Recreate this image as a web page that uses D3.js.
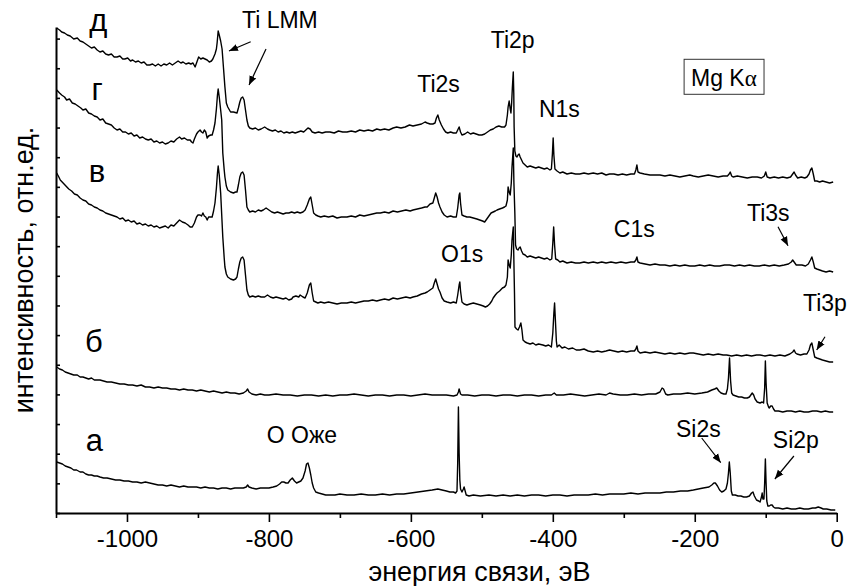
<!DOCTYPE html>
<html>
<head>
<meta charset="utf-8">
<script src="https://cdn.jsdelivr.net/npm/d3@7"></script>
<style>
  body { margin: 0; background: #fff; }
  svg { display: block; font-family: "Liberation Sans", Arial, sans-serif; }
</style>
</head>
<body>
<svg id="chart" width="847" height="586"></svg>
<script>
// x ticks (binding energy, eV)
const energyTicks = [-1000, -800, -600, -400, -200, 0];
const energyMinorTicks = [-1100, -900, -700, -500, -300, -100];

// spectra, [energy eV, intensity a.u.]
const spectrumD = [[-1099,485],[-1095,483],[-1092,481],[-1088,480],[-1084,478],[-1080,477],[-1075,474],[-1070,475],[-1066,472],[-1062,471],[-1058,469],[-1054,467],[-1050,465],[-1046,466],[-1042,463],[-1038,461],[-1034,462],[-1030,459],[-1026,458],[-1022,459],[-1018,456],[-1014,456],[-1010,457],[-1006,454],[-1003,454],[-999,455],[-995,452],[-992,453],[-988,451],[-984,452],[-980,450],[-976,451],[-972,448],[-968,448],[-964,449],[-960,447],[-956,449],[-952,447],[-948,449],[-944,448],[-940,450],[-936,448],[-932,450],[-928,452],[-924,450],[-921,451],[-917,449],[-913,450],[-910,449],[-907,450],[-904,446],[-901,452],[-899,456],[-896,454],[-893,455],[-890,454],[-887,453],[-884,451],[-881,452],[-879,454],[-876,459],[-874,464],[-873,470],[-871.5,482],[-870,478],[-868,472],[-866,464],[-864,445],[-862,426],[-860,410],[-858,406],[-854,401],[-850,401],[-845,400],[-843,405],[-841,411],[-839,415],[-837,416],[-835,413],[-833,403],[-831,393],[-829,387],[-827,385],[-823,384],[-819,385],[-815,383],[-811,384],[-806,386],[-802,384],[-799,383],[-795,382],[-791,383],[-787,381],[-783,382],[-779,380],[-775,381],[-771,380],[-767,381],[-763,380],[-759,381],[-755,382],[-751,381],[-748,383],[-745,385],[-742,384],[-739,381],[-735,380],[-730,381],[-725,380],[-720,381],[-714,381],[-708,380],[-702,382],[-696,381],[-690,381],[-684,382],[-678,381],[-672,383],[-666,382],[-660,383],[-654,382],[-648,384],[-643,383],[-637,384],[-631,383],[-625,385],[-620,386],[-614,385],[-608,386],[-602,388],[-597,387],[-591,388],[-585,389],[-580,391],[-577,390],[-573,389],[-569,389],[-566,390],[-564,395],[-562,398],[-560,393],[-557,388],[-554,384],[-551,381],[-548,380],[-544,381],[-540,380],[-536,380],[-534,383],[-532,386],[-530,381],[-528,378],[-524,379],[-520,381],[-516,379],[-512,380],[-508,379],[-504,378],[-500,378],[-496,379],[-492,381],[-488,383],[-484,384],[-480,386],[-476,387],[-472,386],[-468,386],[-466,388],[-464,398],[-463,406],[-461.5,412],[-460,404],[-459,400],[-458,410],[-457,425],[-455.7,441],[-455,420],[-454.5,386],[-453.5,362],[-452,357],[-450.5,356],[-449,358],[-447.5,359],[-446,356],[-444,353],[-442,350],[-439,348],[-436,346],[-432,347],[-428,346],[-424,345],[-420,346],[-416,345],[-412,344],[-408,345],[-404,343],[-402,344],[-400.5,360],[-399.5,375],[-398.5,358],[-397,344],[-394,342],[-390,340],[-386,341],[-380,339],[-374,340],[-368,339],[-362,339],[-356,340],[-350,339],[-343,340],[-337,339],[-331,340],[-325,338],[-320,339],[-314,339],[-308,338],[-302,339],[-296,338],[-290,339],[-285,339],[-283,343],[-281.5,348],[-280,341],[-277,340],[-271,339],[-263,338],[-256,338],[-249,338],[-242,337],[-235,338],[-228,337],[-221,336],[-214,337],[-207,338],[-202,337],[-195,336],[-188,337],[-181,338],[-174,337],[-167,336],[-160,337],[-154,337],[-151.5,339],[-150,341],[-148,337],[-146,336],[-140,337],[-133,336],[-126,335],[-119,336],[-112,336],[-106,335],[-102,337],[-100,341],[-98,336],[-94,335],[-88,336],[-82,335],[-76,336],[-70,335],[-65,336],[-62,339],[-60,341],[-58,338],[-55,335],[-50,336],[-45,335],[-42,336],[-39,339],[-37,343],[-35,345],[-33,339],[-31,332],[-28,332],[-24,331],[-20,332],[-15,331],[-10,330],[-5,331]];

const spectrumG = [[-1099,423],[-1095,420],[-1092,418],[-1088,416],[-1085,413],[-1081,414],[-1077,410],[-1073,409],[-1069,407],[-1065,405],[-1062,403],[-1058,404],[-1054,400],[-1050,399],[-1046,397],[-1042,396],[-1038,393],[-1034,394],[-1030,390],[-1026,389],[-1022,388],[-1018,385],[-1014,383],[-1010,384],[-1006,381],[-1002,381],[-998,379],[-994,380],[-990,377],[-986,378],[-982,375],[-978,376],[-974,374],[-970,373],[-966,374],[-962,371],[-958,372],[-954,370],[-950,371],[-946,369],[-942,370],[-938,372],[-934,371],[-930,374],[-926,376],[-923,374],[-919,375],[-915,373],[-911,373],[-909,371],[-907,370],[-905,374],[-902,379],[-900,381],[-897,383],[-895,381],[-893,380],[-891,383],[-889,381],[-887,375],[-885,377],[-882,378],[-880,378],[-878,383],[-876,390],[-874,404],[-872.5,418],[-871.5,424],[-870,416],[-868,403],[-866.5,393],[-865,360],[-863,343],[-862,336],[-860,327],[-858,323],[-854,321],[-850,320],[-847,321],[-845,321],[-843,328],[-841,336],[-839,340],[-837,341],[-835,338],[-833,323],[-831,306],[-829,303],[-827,301],[-823,302],[-819,301],[-815,303],[-811,302],[-808,303],[-804,305],[-800,303],[-796,301],[-792,300],[-788,301],[-784,300],[-780,299],[-776,300],[-772,300],[-768,301],[-764,300],[-760,301],[-756,300],[-752,301],[-749,303],[-746,308],[-743,314],[-741,316],[-739,308],[-737,300],[-734,298],[-731,297],[-727,296],[-722,297],[-716,296],[-710,297],[-704,295],[-698,296],[-690,296],[-684,297],[-678,296],[-672,298],[-666,297],[-660,298],[-654,299],[-648,300],[-643,300],[-637,301],[-631,300],[-625,302],[-619,301],[-613,302],[-607,303],[-601,302],[-597,303],[-591,304],[-585,305],[-580,306],[-577,306],[-573,309],[-569,310],[-567,315],[-565,320],[-563,316],[-561,310],[-559,306],[-556,301],[-553,298],[-549,296],[-544,297],[-540,296],[-536,296],[-534,305],[-532,318],[-531,320],[-530,310],[-528,298],[-525,297],[-521,296],[-517,296],[-512,295],[-507,294],[-503,293],[-499,292],[-496,291],[-493,294],[-490,297],[-487,300],[-484,301],[-481,302],[-478.6,303],[-475,304],[-471,305],[-468,306],[-466,307],[-464,313],[-463,326],[-461.5,321],[-460,318],[-458.5,330],[-457.5,346],[-455.7,365],[-454.8,330],[-453.5,300],[-452.5,268],[-451,264],[-449,263],[-447.5,265],[-446,266],[-444,262],[-442,259],[-439,258],[-436,256],[-432,257],[-428,256],[-424,255],[-420,256],[-416,255],[-412,254],[-408,255],[-404,253],[-401.5,254],[-400,270],[-398.8,286],[-397.5,268],[-396,254],[-393,253],[-390,251],[-386,252],[-380,250],[-374,251],[-368,250],[-362,250],[-356,251],[-350,250],[-343,251],[-337,250],[-331,251],[-325,250],[-318,251],[-311,250],[-304,251],[-297,250],[-290,251],[-285,251],[-283,253],[-281.5,256],[-280,251],[-277,250],[-270,249],[-263,248],[-256,249],[-249,248],[-242,248],[-235,247],[-228,248],[-221,247],[-214,248],[-207,247],[-200,247],[-193,248],[-186,247],[-179,248],[-172,247],[-165,247],[-158,248],[-151,248],[-144,247],[-137,248],[-130,247],[-123,248],[-116,247],[-109,247],[-102,248],[-95,247],[-88,248],[-81,247],[-74,248],[-68,249],[-64,251],[-62,253],[-60,251],[-57,248],[-54,248],[-49,248],[-44,247],[-40,249],[-37,253],[-35,256],[-33,251],[-31,245],[-28,244],[-24,243],[-20,242],[-15,241],[-10,242],[-5,241]];

const spectrumV = [[-1099,340],[-1096,336],[-1094,333],[-1090,330],[-1086,327],[-1082,324],[-1078,322],[-1074,319],[-1070,318],[-1066,315],[-1062,313],[-1058,312],[-1054,309],[-1050,308],[-1046,306],[-1042,305],[-1038,303],[-1034,302],[-1030,300],[-1026,299],[-1022,298],[-1018,297],[-1014,296],[-1010,294],[-1006,295],[-1002,292],[-998,293],[-994,291],[-990,292],[-986,289],[-982,290],[-978,288],[-974,289],[-970,287],[-966,288],[-962,286],[-958,287],[-954,285],[-950,286],[-946,287],[-942,285],[-938,288],[-934,287],[-930,290],[-926,293],[-922,291],[-918,290],[-914,288],[-911,286],[-908,286],[-905,290],[-902,296],[-900,298],[-897,298],[-895,297],[-893,300],[-891,297],[-889,296],[-887,293],[-885,296],[-883,296],[-880,296],[-878,302],[-876,310],[-874,325],[-872.5,340],[-871.5,347],[-870,338],[-868,320],[-866.5,298],[-865,276],[-863,255],[-862,246],[-860,239],[-858,236],[-854,234],[-850,233],[-847,234],[-845,236],[-843,244],[-841,251],[-839,255],[-837,256],[-835,253],[-833,238],[-831,223],[-829,218],[-827,216],[-823,217],[-819,216],[-815,217],[-811,216],[-806,216],[-802,218],[-798,216],[-794,215],[-790,216],[-785,215],[-780,214],[-776,215],[-772,213],[-768,214],[-766,216],[-762,217],[-758,216],[-756,218],[-752,216],[-749,215],[-746,220],[-743,228],[-741,230],[-739,220],[-737,212],[-734,211],[-731,210],[-727,211],[-722,210],[-716,211],[-710,210],[-704,209],[-698,210],[-690,210],[-684,211],[-678,210],[-672,211],[-666,212],[-660,212],[-654,213],[-648,212],[-643,213],[-637,214],[-631,213],[-625,215],[-619,214],[-613,215],[-607,216],[-601,215],[-597,216],[-591,217],[-585,219],[-580,220],[-577,221],[-573,223],[-569,225],[-567,230],[-565,234],[-563,229],[-561,224],[-559,221],[-556,215],[-553,212],[-549,211],[-544,210],[-540,211],[-536,210],[-534,218],[-532,228],[-531,231],[-530,222],[-528,211],[-525,209],[-521,208],[-517,209],[-512,210],[-507,209],[-502,208],[-498,207],[-495,206],[-492,207],[-489,209],[-486,212],[-484,215],[-481,218],[-478.6,220],[-475,222],[-471,225],[-468,226],[-466,228],[-464,236],[-463,253],[-461.5,248],[-460,245],[-458.5,258],[-457.5,273],[-455.7,286],[-454.8,250],[-454,220],[-453.3,186],[-451,184],[-449,183],[-447,186],[-445,190],[-443.5,183],[-442,173],[-439,171],[-436,170],[-432,169],[-428,170],[-424,168],[-420,169],[-414,168],[-410,167],[-406,168],[-402,166],[-400,180],[-398.5,200],[-397.5,210],[-396.5,195],[-395,172],[-394,166],[-391,168],[-387,165],[-383,166],[-378,164],[-372,165],[-367,163],[-362,163],[-356,164],[-350,162],[-343,161],[-337,162],[-331,161],[-325,162],[-320,163],[-314,162],[-308,161],[-302,162],[-296,161],[-290,162],[-285,162],[-283,164],[-281.5,167],[-280,162],[-277,160],[-270,161],[-263,160],[-256,161],[-249,160],[-242,159],[-235,160],[-228,159],[-221,160],[-214,159],[-207,160],[-202,160],[-195,159],[-188,158],[-181,159],[-174,158],[-167,159],[-160,158],[-155,158],[-148,157],[-141,158],[-134,157],[-127,158],[-120,157],[-113,158],[-108,158],[-101,157],[-94,158],[-87,157],[-80,158],[-73,157],[-66,159],[-62,161],[-60,163],[-58,160],[-56,159],[-51,158],[-46,159],[-42,159],[-39,163],[-37,168],[-35,170],[-33,163],[-31,156],[-28,155],[-24,154],[-20,153],[-15,152],[-10,151],[-5,151]];

const spectrumB = [[-1099,146],[-1095,144],[-1091,143],[-1087,141],[-1083,140],[-1079,139],[-1075,138],[-1070,138],[-1066,136],[-1062,136],[-1058,135],[-1054,134],[-1050,135],[-1046,133],[-1042,133],[-1038,133],[-1033,132],[-1028,131],[-1022,131],[-1016,130],[-1010,129],[-1004,129],[-998,128],[-992,128],[-986,127],[-980,128],[-974,126],[-968,126],[-962,125],[-956,126],[-950,125],[-944,125],[-938,124],[-932,124],[-926,123],[-920,124],[-914,123],[-908,123],[-902,122],[-896,123],[-890,122],[-884,121],[-878,122],[-872,121],[-866,120],[-860,121],[-854,120],[-848,120],[-842,119],[-836,120],[-832,122],[-830,124],[-828,121],[-824,119],[-818,118],[-812,119],[-806,118],[-800,118],[-790,119],[-780,118],[-770,118],[-760,117],[-750,118],[-740,118],[-730,117],[-720,118],[-710,117],[-700,118],[-690,118],[-680,119],[-670,118],[-660,117],[-650,118],[-640,118],[-630,117],[-620,118],[-610,118],[-600,117],[-590,118],[-580,119],[-570,118],[-560,118],[-550,118],[-540,117],[-535,118],[-533,121],[-532,124],[-530,119],[-528,118],[-520,118],[-510,117],[-500,118],[-490,118],[-480,117],[-470,118],[-460,118],[-450,117],[-440,118],[-430,118],[-420,117],[-410,118],[-402,118],[-398,120],[-395,118],[-385,118],[-375,119],[-365,118],[-355,117],[-345,118],[-335,119],[-325,118],[-320,120],[-315,119],[-305,118],[-295,118],[-285,119],[-275,118],[-265,119],[-255,119],[-249,121],[-246,125],[-244,124],[-241,119],[-238,118],[-230,119],[-220,119],[-210,120],[-200,119],[-190,120],[-182,121],[-176,123],[-172,124],[-169,125],[-166,122],[-163,120],[-159,119],[-156,119],[-154,124],[-152.5,135],[-151,155],[-149.5,132],[-148,120],[-146,118],[-142,117],[-138,116],[-134,116],[-130,115],[-126,115],[-123,116],[-121,118],[-119,120],[-117,118],[-115,114],[-112,111],[-108,110],[-105,111],[-103,110],[-101.5,125],[-100.5,152],[-99.5,130],[-98,110],[-96,106],[-95,105],[-93,107],[-91,107],[-89,104],[-87,102],[-82,102],[-76,101],[-70,102],[-64,102],[-58,101],[-52,102],[-46,101],[-40,101],[-34,102],[-28,102],[-22,101],[-16,102],[-10,101],[-5,101]];

const spectrumA = [[-1099,51],[-1095,50],[-1091,49],[-1087,47],[-1083,46],[-1079,45],[-1075,43],[-1071,43],[-1066,41],[-1062,41],[-1058,39],[-1054,38],[-1050,38],[-1046,37],[-1042,37],[-1038,36],[-1033,35],[-1028,35],[-1022,34],[-1016,33],[-1010,33],[-1004,32],[-998,32],[-992,31],[-986,31],[-980,30],[-974,31],[-968,30],[-962,29],[-956,28],[-950,28],[-944,27],[-938,28],[-932,27],[-926,26],[-920,27],[-914,26],[-908,26],[-902,26],[-896,25],[-890,26],[-884,25],[-878,25],[-872,24],[-866,25],[-860,25],[-854,24],[-848,25],[-842,25],[-836,25],[-832,26],[-830,28],[-828,26],[-824,25],[-818,24],[-812,25],[-806,25],[-800,25],[-794,26],[-789,27],[-785,29],[-782,31],[-779,31],[-776,30],[-773,30],[-770,33],[-767,35],[-764,32],[-761,30],[-758,31],[-755,32],[-752,35],[-749,42],[-747,49],[-745,50],[-743,45],[-741,38],[-739,30],[-737,25],[-734,21],[-730,20],[-725,19],[-720,18],[-714,18],[-707,18],[-700,19],[-690,18],[-680,18],[-670,19],[-660,18],[-650,18],[-640,19],[-630,18],[-620,19],[-610,19],[-600,20],[-590,21],[-580,22],[-570,23],[-562,24],[-556,23],[-550,22],[-545,21],[-540,21],[-537,20],[-535,22],[-534,50],[-533,106],[-532,60],[-531,33],[-530,24],[-528,21],[-526,24],[-525,26],[-523.5,22],[-522,18],[-518,17],[-512,18],[-502,17],[-490,18],[-480,17],[-470,18],[-460,17],[-450,18],[-440,17],[-430,18],[-420,18],[-410,17],[-400,18],[-390,18],[-380,17],[-370,18],[-361,18],[-350,18],[-340,19],[-330,18],[-320,19],[-310,19],[-300,19],[-290,20],[-280,19],[-270,20],[-260,20],[-249,20],[-240,21],[-230,21],[-220,22],[-210,22],[-202,23],[-195,24],[-188,25],[-180,26],[-176,28],[-173,30],[-171,30],[-168,27],[-165,23],[-162,21],[-159,22],[-156,24],[-154,30],[-152.5,40],[-151.3,51],[-150,40],[-148.5,22],[-147,18],[-143,18],[-139,17],[-135,17],[-131,16],[-127,16],[-123,17],[-120,20],[-118,21],[-116,17],[-113,13],[-110,12],[-108,11],[-106,16],[-105,20],[-104,14],[-102.5,14],[-101.5,30],[-100.5,54],[-99.5,30],[-98.5,12],[-97,7],[-95,7],[-93,8],[-91,8],[-89,6],[-87,5],[-82,5],[-76,4],[-70,5],[-64,4],[-58,4],[-52,5],[-46,4],[-40,4],[-34,5],[-30,5],[-26,6],[-22,5],[-19,4],[-14,4],[-8,3],[-2,3]];

const spectra = [spectrumD, spectrumG, spectrumV, spectrumB, spectrumA];
const spectrumNames = ['д', 'г', 'в', 'б', 'а'];
// where each sample letter sits, [energy, intensity]
const spectrumNameAt = [[-1053, 482], [-1050, 413], [-1054, 331], [-1059, 161], [-1058, 62]];

const peakNames = ['Ti LMM', 'Ti2p', 'Ti2s', 'N1s', 'O1s', 'C1s', 'Ti3s', 'Ti3p', 'O Оже', 'Si2s', 'Si2p'];
const peakNameAt = [[-838, 485], [-487.5, 465], [-591, 421], [-419.5, 396], [-557.5, 251], [-314, 276],
                    [-126.4, 292], [-47.5, 202], [-803, 70], [-226.4, 76], [-90, 65]];
// arrows: from [E, I] to [E, I]
const arrowsFrom = [[-825.7, 471.3], [-804.1, 464], [-82.7, 286.3], [-16.5, 176.3], [-190.2, 75], [-60.3, 57]];
const arrowsTo   = [[-856.3, 462], [-828, 428], [-68.6, 267.3], [-28.2, 163], [-163.4, 50.3], [-87.1, 34]];

const width = 847, height = 586;
const margin = { top: 27, right: 10.3, bottom: 73, left: 56 };

const svg = d3.select('#chart');

const x = d3.scaleLinear().domain([-1100, 0]).range([margin.left, width - margin.right]);
const y = d3.scaleLinear().domain([0, 486]).range([height - margin.bottom, margin.top]);

// arrow head
svg.append('defs').append('marker')
  .attr('id', 'head')
  .attr('viewBox', '0 0 10 10')
  .attr('refX', 10).attr('refY', 5)
  .attr('markerWidth', 9).attr('markerHeight', 9)
  .attr('markerUnits', 'userSpaceOnUse')
  .attr('orient', 'auto')
  .append('path').attr('d', 'M0,1 L10,5 L0,9 Z').attr('fill', '#000');

// spectra
const line = d3.line().x(d => x(d[0])).y(d => y(d[1]));
svg.append('g')
  .selectAll('path')
  .data(spectra)
  .join('path')
  .attr('d', line)
  .attr('fill', 'none')
  .attr('stroke', '#000')
  .attr('stroke-width', 1.4)
  .attr('stroke-linejoin', 'round');

// bottom axis, major and minor ticks
const xAxis = svg.append('g')
  .attr('transform', `translate(0,${height - margin.bottom})`)
  .call(d3.axisBottom(x).tickValues(energyTicks).tickSize(9).tickSizeOuter(0).tickPadding(8)
    .tickFormat(d => String(d)));
svg.append('g')
  .attr('transform', `translate(0,${height - margin.bottom})`)
  .call(d3.axisBottom(x).tickValues(energyMinorTicks).tickSize(5).tickSizeOuter(0).tickFormat(''))
  .select('.domain').remove();
xAxis.selectAll('text')
  .attr('font-size', 24)
  .attr('font-family', '"Liberation Sans", Arial, sans-serif')
  .attr('fill', '#000');

// left axis: inward ticks, no labels
svg.append('g')
  .attr('transform', `translate(${margin.left},0)`)
  .call(d3.axisLeft(y).tickValues(d3.range(0, 486, 29.65)).tickSize(-4).tickSizeOuter(0).tickFormat(''));

svg.selectAll('.domain').attr('stroke-width', 2).attr('stroke', '#000');
svg.selectAll('.tick line').attr('stroke-width', 1.6).attr('stroke', '#000');

// axis titles
svg.append('text')
  .attr('x', 479.5).attr('y', 581)
  .attr('text-anchor', 'middle')
  .attr('font-size', 27)
  .text('энергия связи, эВ');
svg.append('text')
  .attr('transform', `translate(33,${(margin.top + height - margin.bottom) / 2}) rotate(-90)`)
  .attr('text-anchor', 'middle')
  .attr('font-size', 27)
  .text('интенсивность, отн.ед.');

// sample letters
svg.append('g')
  .selectAll('text')
  .data(spectrumNames)
  .join('text')
  .attr('x', (d, i) => x(spectrumNameAt[i][0]))
  .attr('y', (d, i) => y(spectrumNameAt[i][1]))
  .attr('font-size', 31)
  .text(d => d);

// peak labels
svg.append('g')
  .selectAll('text')
  .data(peakNames)
  .join('text')
  .attr('x', (d, i) => x(peakNameAt[i][0]))
  .attr('y', (d, i) => y(peakNameAt[i][1]))
  .attr('font-size', 23)
  .text(d => d);

// arrows
svg.append('g')
  .selectAll('line')
  .data(arrowsFrom)
  .join('line')
  .attr('x1', d => x(d[0])).attr('y1', d => y(d[1]))
  .attr('x2', (d, i) => x(arrowsTo[i][0])).attr('y2', (d, i) => y(arrowsTo[i][1]))
  .attr('stroke', '#000')
  .attr('stroke-width', 1.2)
  .attr('marker-end', 'url(#head)');

// excitation source box
const boxLeft = x(-215), boxTop = y(453.7);
svg.append('rect')
  .attr('x', boxLeft).attr('y', boxTop)
  .attr('width', x(-102.4) - boxLeft).attr('height', y(418.7) - boxTop)
  .attr('fill', 'none').attr('stroke', '#333').attr('stroke-width', 1);
const src = svg.append('text')
  .attr('x', x(-205.3)).attr('y', y(427))
  .attr('font-size', 23);
src.append('tspan').text('Mg K');
src.append('tspan').attr('font-family', '"Liberation Serif", "DejaVu Serif", serif').text('α');
</script>
</body>
</html>
